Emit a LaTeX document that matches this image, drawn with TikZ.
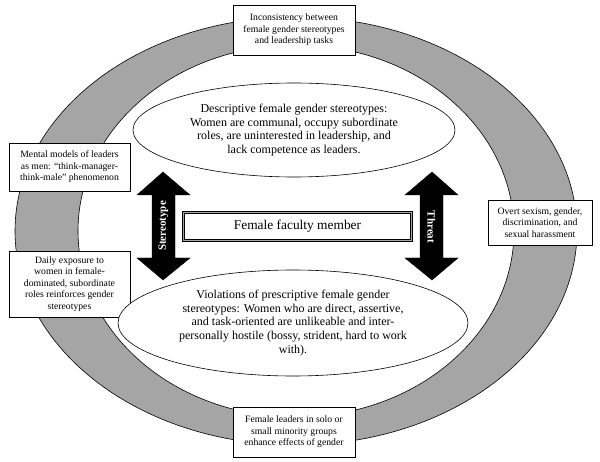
\documentclass[tikz,border=0pt]{standalone}
\usepackage{fontspec}
\setmainfont{Liberation Serif}
\usetikzlibrary{shapes.geometric}
\definecolor{ringgray}{RGB}{165,165,165}
\tikzset{
  infobox/.style={draw=black, line width=0.6pt, fill=white, align=center, inner sep=0pt,
    font=\fontsize{9.7}{11.5}\selectfont},
  stereoell/.style={draw=black, line width=0.6pt, fill=white, ellipse, align=center, inner sep=0pt,
    font=\fontsize{12}{13.8}\selectfont},
  centerbox/.style={draw=black, line width=0.9pt, double=gray!70, double distance=1.3pt, fill=white,
    align=center, inner sep=0pt, font=\fontsize{13.4}{15}\selectfont},
  arrowshape/.style={fill=black, draw=black, line width=0.4pt},
  arrowtext/.style={text=white, font=\fontsize{11}{13}\selectfont\bfseries, inner sep=0pt}
}
\begin{document}
\begin{tikzpicture}[x=1pt,y=-1pt]
\useasboundingbox (0,0) rectangle (600,462);
% ring
\fill[ringgray, even odd rule] (296,231) ellipse[x radius=281, y radius=214]
  (296,231) ellipse[x radius=218, y radius=186];
\draw[line width=0.6pt] (296,231) ellipse[x radius=281, y radius=214];
\draw[line width=0.6pt] (296,231) ellipse[x radius=218, y radius=186];
% boxes on ring
\node[infobox, minimum width=122, minimum height=50] (top) at (294,30)
  {Inconsistency between\\female gender stereotypes\\and leadership tasks};
\node[infobox, minimum width=121, minimum height=48] (mental) at (69.5,167)
  {Mental models of leaders\\as men: “think-manager-\\think-male” phenomenon};
\node[infobox, minimum width=121, minimum height=66] (daily) at (69.5,284)
  {Daily exposure to\\women in female-\\dominated, subordinate\\roles reinforces gender\\stereotypes};
\node[infobox, minimum width=104, minimum height=45] (overt) at (540,222.5)
  {Overt sexism, gender,\\discrimination, and\\sexual harassment};
\node[infobox, minimum width=122, minimum height=50] (bottom) at (294,432)
  {Female leaders in solo or\\small minority groups\\enhance effects of gender};
% ellipses
\node[stereoell, minimum width=322, minimum height=94] (desc) at (294,130)
  {Descriptive female gender stereotypes:\\Women are communal, occupy subordinate\\roles, are uninterested in leadership, and\\lack competence as leaders.};
\node[stereoell, minimum width=350, minimum height=106] (viol) at (293,323)
  {Violations of prescriptive female gender\\stereotypes: Women who are direct, assertive,\\and task-oriented are unlikeable and inter-\\personally hostile (bossy, strident, hard to work\\with).};
% arrows
\draw[arrowshape] (163,172) -- (190,195) -- (175,195) -- (175,258) -- (190,258) -- (163,280)
  -- (137,258) -- (152,258) -- (152,195) -- (137,195) -- cycle;
\node[arrowtext, rotate=90] (stereo) at (163.5,226) {Stereotype};
\draw[arrowshape] (432,172) -- (458,195) -- (443,195) -- (443,258) -- (458,258) -- (432,280)
  -- (405,258) -- (420,258) -- (420,195) -- (405,195) -- cycle;
\node[arrowtext, rotate=-90] (threat) at (431.5,227) {Threat};
% central box
\node[centerbox, minimum width=228, minimum height=28] (faculty) at (297.5,226.5)
  {Female faculty member};
\end{tikzpicture}
\end{document}
